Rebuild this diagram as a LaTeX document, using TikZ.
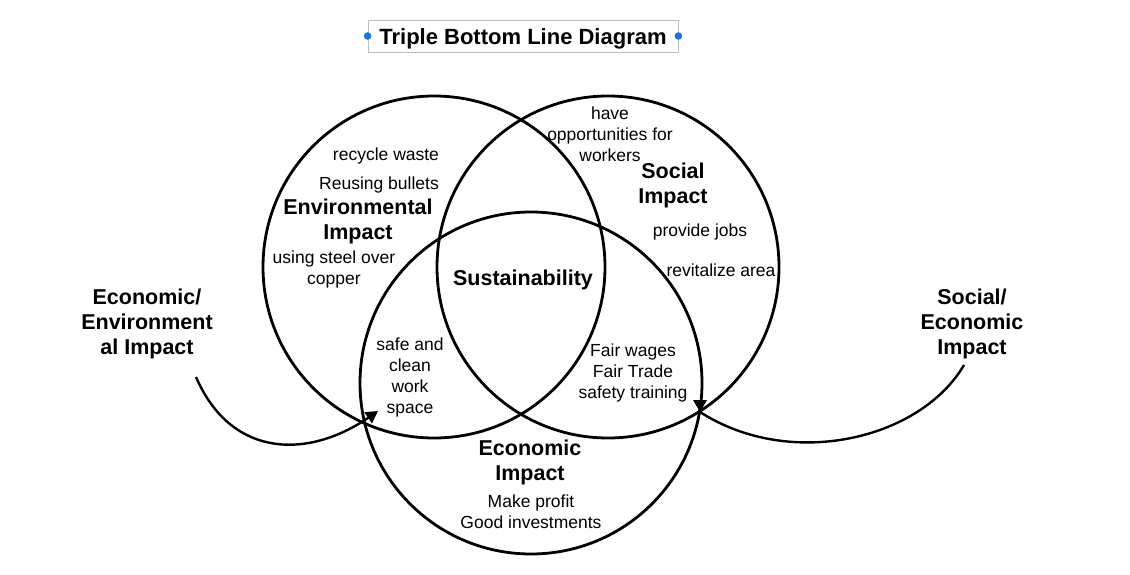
\documentclass[tikz,border=0pt]{standalone}
\usepackage{fontspec}
\setmainfont{Liberation Sans}
\usetikzlibrary{positioning, arrows.meta}
\definecolor{framegray}{RGB}{190,190,190}
\definecolor{handleblue}{RGB}{30,115,225}

\begin{document}
\begin{tikzpicture}[x=1pt, y=-1pt, >={Triangle[length=12pt,width=13pt]},
  ring/.style={line width=2.8pt},
  txt/.style={font=\fontsize{17.5}{21}\selectfont, align=center, inner sep=0pt},
  head/.style={font=\fontsize{21.5}{25}\selectfont\bfseries, align=center, inner sep=0pt},
  link/.style={line width=2.4pt, ->}]
\useasboundingbox (0,0) rectangle (1130,575);
\coordinate (envC) at (434,267);
\coordinate (socC) at (608,267);
\coordinate (ecoC) at (531,383);
\draw[ring] (envC) circle (171pt);
\draw[ring] (socC) circle (171pt);
\draw[ring] (ecoC) circle (171pt);

\node[draw=framegray, line width=0.8pt, minimum width=310pt, minimum height=32pt] (title) at (523,36) {};
\node[head, font=\fontsize{22}{25}\selectfont\bfseries] (titletext) at (523,38.5) {Triple Bottom Line Diagram};
\fill[handleblue] (title.west) circle (3.8pt) (title.east) circle (3.8pt);

% environmental circle
\node[txt] (recycle) at (386,156) {recycle waste};
\node[txt] (reuse) at (379,185) {Reusing bullets};
\node[head] (env) at (358,221) {Environmental\\Impact};
\node[txt] (steel) at (334,269) {using steel over\\copper};

% social circle
\node[txt] (jobsfor) at (610,134) {have\\opportunities for\\workers};
\node[head] (soc) at (673,185) {Social\\Impact};
\node[txt] (provide) at (700,232) {provide jobs};
\node[txt] (revital) at (721,270) {revitalize area};

% overlaps
\node[head] (sust) at (523,280) {Sustainability};
\node[txt] (safe) at (410,377) {safe and\\clean\\work\\space};
\node[txt] (fair) at (633,373) {Fair wages\\Fair Trade\\safety training};

% economic circle
\node[head] (eco) at (530,462) {Economic\\Impact};
\node[txt] (profit) at (531,512) {Make profit\\Good investments};

% side labels
\node[head] (econenv) at (147,324) {Economic/\\Environment\\al Impact};
\node[head] (socecon) at (972,324) {Social/\\Economic\\Impact};

\coordinate (lstart) at (196,377);
\coordinate (ltip) at (378,411);
\coordinate (rstart) at (964,365);
\coordinate (rtip) at (700,412);
\draw[link] (lstart) .. controls (232,460) and (310,458) .. (ltip);
\draw[link] (rstart) .. controls (920,440) and (790,470) .. (rtip) -- ++(0,0.2);
\end{tikzpicture}
\end{document}
